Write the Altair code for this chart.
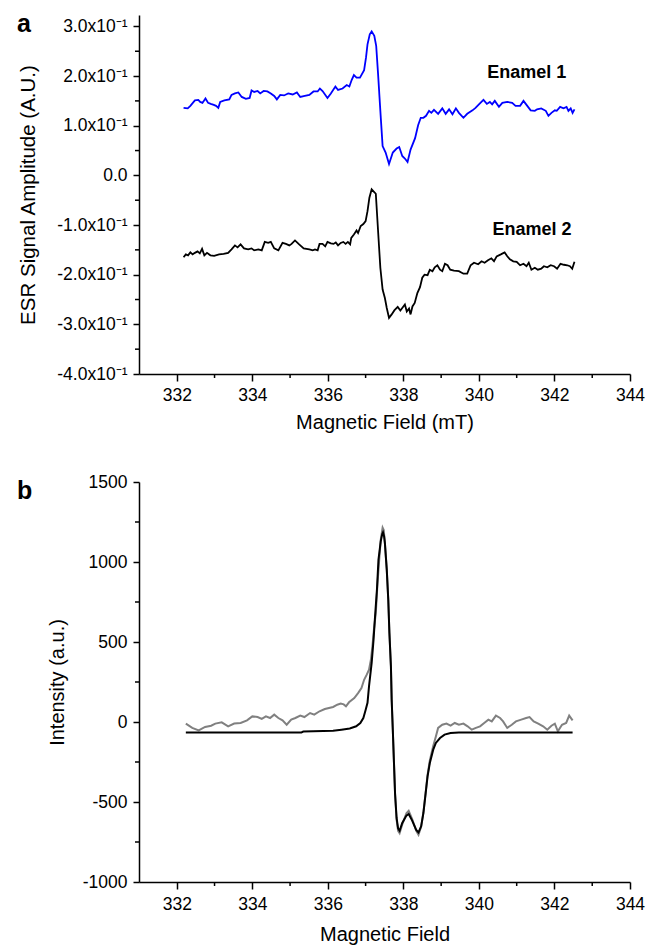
import altair as alt
import pandas as pd

# ---------------- Panel a data ----------------
field_e1 = [332.18, 332.29, 332.36, 332.48, 332.57, 332.62, 332.68, 332.76, 332.83, 332.90, 332.98, 333.04,
            333.10, 333.15, 333.26, 333.39, 333.45, 333.54, 333.63, 333.72, 333.83, 333.93, 333.98, 334.05,
            334.14, 334.21, 334.30, 334.40, 334.49, 334.58, 334.65, 334.74, 334.84, 334.95, 335.07, 335.18,
            335.27, 335.39, 335.51, 335.62, 335.73, 335.79, 335.86, 335.99, 336.08, 336.20, 336.27, 336.39,
            336.50, 336.57, 336.63, 336.69, 336.76, 336.85, 336.96, 337.01, 337.05, 337.11, 337.16, 337.23,
            337.28, 337.33, 337.39, 337.45, 337.53, 337.62, 337.72, 337.82, 337.89, 337.97, 338.04, 338.11,
            338.19, 338.31, 338.39, 338.46, 338.53, 338.60, 338.68, 338.74, 338.81, 338.92, 339.03, 339.12,
            339.21, 339.30, 339.39, 339.47, 339.59, 339.69, 339.83, 339.91, 340.00, 340.12, 340.21, 340.29,
            340.35, 340.42, 340.53, 340.62, 340.75, 340.88, 340.97, 341.09, 341.18, 341.28, 341.37, 341.48,
            341.54, 341.65, 341.77, 341.84, 341.92, 342.01, 342.06, 342.15, 342.24, 342.32, 342.37, 342.43,
            342.48, 342.53]
amp_e1 = [0.136, 0.135, 0.140, 0.151, 0.152, 0.148, 0.146, 0.155, 0.146, 0.144, 0.142, 0.140,
          0.136, 0.148, 0.151, 0.153, 0.162, 0.165, 0.167, 0.158, 0.154, 0.156, 0.171, 0.168,
          0.170, 0.165, 0.170, 0.169, 0.165, 0.160, 0.153, 0.162, 0.161, 0.165, 0.163, 0.167,
          0.158, 0.160, 0.162, 0.169, 0.169, 0.175, 0.170, 0.156, 0.165, 0.179, 0.172, 0.175,
          0.182, 0.179, 0.192, 0.202, 0.197, 0.197, 0.212, 0.237, 0.264, 0.284, 0.290, 0.281,
          0.261, 0.204, 0.130, 0.059, 0.046, 0.023, 0.046, 0.054, 0.057, 0.039, 0.034, 0.027,
          0.052, 0.075, 0.101, 0.116, 0.116, 0.120, 0.130, 0.126, 0.132, 0.124, 0.135, 0.124,
          0.133, 0.123, 0.135, 0.126, 0.116, 0.124, 0.131, 0.136, 0.143, 0.152, 0.144, 0.148,
          0.143, 0.150, 0.138, 0.146, 0.148, 0.146, 0.140, 0.140, 0.150, 0.140, 0.131, 0.130,
          0.133, 0.135, 0.130, 0.120, 0.126, 0.131, 0.130, 0.138, 0.135, 0.138, 0.130, 0.135,
          0.126, 0.133]

field_e2 = [332.18, 332.24, 332.30, 332.36, 332.42, 332.48, 332.55, 332.61, 332.67, 332.73, 332.80, 332.89,
            332.99, 333.12, 333.24, 333.36, 333.45, 333.54, 333.61, 333.69, 333.78, 333.89, 333.98, 334.05,
            334.16, 334.25, 334.33, 334.42, 334.49, 334.58, 334.69, 334.80, 334.89, 334.98, 335.04, 335.13,
            335.24, 335.36, 335.51, 335.60, 335.66, 335.73, 335.78, 335.86, 335.93, 335.99, 336.08, 336.15,
            336.21, 336.27, 336.34, 336.41, 336.47, 336.53, 336.59, 336.62, 336.69, 336.76, 336.80, 336.87,
            336.94, 337.00, 337.05, 337.10, 337.16, 337.21, 337.27, 337.33, 337.39, 337.45, 337.51, 337.56,
            337.62, 337.69, 337.76, 337.85, 337.92, 337.97, 338.04, 338.09, 338.15, 338.19, 338.24, 338.30,
            338.37, 338.44, 338.50, 338.56, 338.64, 338.70, 338.77, 338.83, 338.90, 338.97, 339.03, 339.10,
            339.17, 339.24, 339.34, 339.47, 339.59, 339.69, 339.78, 339.87, 339.98, 340.07, 340.15, 340.24,
            340.33, 340.40, 340.47, 340.58, 340.68, 340.75, 340.82, 340.91, 341.00, 341.09, 341.18, 341.26,
            341.32, 341.39, 341.48, 341.56, 341.65, 341.72, 341.81, 341.90, 341.99, 342.07, 342.16, 342.25,
            342.34, 342.41, 342.47, 342.53]
amp_e2 = [-0.165, -0.159, -0.161, -0.155, -0.159, -0.156, -0.153, -0.157, -0.148, -0.161, -0.156, -0.161,
          -0.162, -0.159, -0.158, -0.156, -0.149, -0.141, -0.145, -0.139, -0.147, -0.149, -0.147, -0.151,
          -0.149, -0.151, -0.134, -0.136, -0.134, -0.147, -0.151, -0.136, -0.138, -0.141, -0.138, -0.131,
          -0.139, -0.147, -0.149, -0.151, -0.149, -0.151, -0.138, -0.138, -0.143, -0.134, -0.137, -0.138,
          -0.135, -0.141, -0.136, -0.134, -0.138, -0.134, -0.139, -0.126, -0.119, -0.111, -0.116, -0.102,
          -0.098, -0.092, -0.072, -0.045, -0.028, -0.032, -0.037, -0.112, -0.186, -0.230, -0.247, -0.267,
          -0.287, -0.280, -0.272, -0.265, -0.272, -0.267, -0.260, -0.274, -0.268, -0.280, -0.264, -0.257,
          -0.237, -0.225, -0.206, -0.200, -0.201, -0.190, -0.193, -0.185, -0.181, -0.190, -0.193, -0.178,
          -0.181, -0.190, -0.192, -0.193, -0.198, -0.198, -0.181, -0.176, -0.179, -0.173, -0.176, -0.171,
          -0.167, -0.173, -0.163, -0.159, -0.155, -0.163, -0.169, -0.173, -0.174, -0.181, -0.178, -0.183,
          -0.176, -0.190, -0.186, -0.190, -0.188, -0.183, -0.185, -0.181, -0.183, -0.188, -0.178, -0.180,
          -0.181, -0.183, -0.188, -0.174]

labels_a = ["Enamel 1", "Enamel 2"]
labels_a_x = [340.22, 340.36]
labels_a_y = [0.1956, -0.121]

# ---------------- Panel b data ----------------
field_exp = [332.24, 332.41, 332.58, 332.75, 332.91, 333.02, 333.19, 333.36, 333.52, 333.69, 333.86, 334.00,
             334.14, 334.25, 334.36, 334.47, 334.58, 334.69, 334.80, 334.91, 335.03, 335.14, 335.27, 335.38,
             335.53, 335.64, 335.78, 335.92, 336.03, 336.14, 336.25, 336.34, 336.42, 336.48, 336.56, 336.70,
             336.80, 336.89, 336.96, 337.03, 337.09, 337.14, 337.18, 337.22, 337.27, 337.31, 337.36, 337.40,
             337.45, 337.48, 337.51, 337.56, 337.60, 337.63, 337.67, 337.69, 337.72, 337.75, 337.78, 337.82,
             337.86, 337.90, 337.97, 338.08, 338.14, 338.23, 338.34, 338.40, 338.47, 338.53, 338.59, 338.64,
             338.70, 338.79, 338.86, 338.92, 339.03, 339.14, 339.25, 339.36, 339.47, 339.59, 339.70, 339.81,
             339.92, 340.03, 340.14, 340.25, 340.34, 340.45, 340.56, 340.64, 340.75, 340.87, 340.98, 341.12,
             341.25, 341.34, 341.45, 341.57, 341.70, 341.81, 341.92, 342.01, 342.09, 342.20, 342.31, 342.39,
             342.48]
int_exp = [-10, -37, -52, -31, -23, -10, -2, -27, -10, -6, 10, 35,
           31, 19, 35, 25, 46, 25, 10, -17, 15, 25, 40, 31,
           56, 46, 67, 81, 88, 94, 108, 115, 110, 98, 123, 150,
           181, 212, 264, 296, 327, 389, 473, 577, 681, 848, 1014, 1139,
           1215, 1200, 1119, 952, 764, 556, 348, 139, -50, -250, -450, -610,
           -680, -695, -640, -570, -555, -605, -680, -705, -655, -565, -440, -330,
           -240, -150, -90, -37, -17, -10, -23, -6, -17, -10, -27, -48,
           -37, -27, -6, 15, 4, 40, 25, 4, -37, -17, 4, 15,
           25, 31, 4, -10, -27, -48, -23, -10, -58, -17, -6, 40,
           10]

field_sim = [332.24, 335.30, 335.35, 336.14, 336.36, 336.58, 336.75, 336.86, 336.94, 337.00, 337.05, 337.09,
             337.16, 337.21, 337.25, 337.30, 337.34, 337.40, 337.44, 337.46, 337.49, 337.51, 337.56, 337.60,
             337.63, 337.67, 337.69, 337.72, 337.75, 337.78, 337.82, 337.86, 337.90, 337.97, 338.08, 338.14,
             338.23, 338.34, 338.40, 338.47, 338.53, 338.59, 338.64, 338.70, 338.79, 338.86, 338.97, 339.09,
             339.25, 339.47, 342.48]
int_sim = [-65, -65, -60, -55, -48, -40, -27, -6, 25, 75, 120, 223,
           369, 514, 660, 827, 1014, 1129, 1175, 1185, 1160, 1119, 952, 764,
           556, 348, 139, -50, -250, -450, -600, -665, -680, -631, -585, -575,
           -615, -675, -690, -652, -569, -444, -340, -256, -173, -131, -100, -79,
           -69, -65, -65]

# ---------------- ticks ----------------
x_major = [332, 334, 336, 338, 340, 342, 344]
x_minor = [333, 335, 337, 339, 341, 343]
ya_major = [-0.4, -0.3, -0.2, -0.1, 0.0, 0.1, 0.2, 0.3]
ya_minor = [-0.35, -0.25, -0.15, -0.05, 0.05, 0.15, 0.25]
yb_major = [-1000, -500, 0, 500, 1000, 1500]
yb_minor = [-750, -250, 250, 750, 1250]

FONT = "Liberation Sans"
W = 491
HA = 359
HB = 400
TICK_FS = 17.5
TITLE_FS = 20

xscale = alt.Scale(domain=[331, 344], nice=False, zero=False)
ya_scale = alt.Scale(domain=[-0.4, 0.323], nice=False, zero=False)
yb_scale = alt.Scale(domain=[-1000, 1500], nice=False, zero=False)


def common_axis(**kw):
    base = dict(grid=False, domainColor="black", domainWidth=1.5, tickColor="black", tickWidth=1.5,
                labelColor="black", titleColor="black", labelFont=FONT, titleFont=FONT,
                labelFontSize=TICK_FS, titleFontSize=TITLE_FS, titleFontWeight="normal",
                labelFlush=False, labelOverlap=False)
    base.update(kw)
    return alt.Axis(**base)


def x_axis(title, lp, tp):
    return common_axis(values=x_major, format="d", tickSize=7, labelPadding=lp, titlePadding=tp, title=title)


ya_label = ("datum.value == 0 ? '0.0' : (datum.value < 0 ? '-' : '') + "
            "format(abs(datum.value) * 10, '.1f') + 'x10⁻¹'")
yb_label = "(datum.value < 0 ? '-' : '') + format(abs(datum.value), 'd')"

AX_XA = x_axis("Magnetic Field (mT)", 5, 9)
AX_YA = common_axis(values=ya_major, labelExpr=ya_label, tickSize=6, labelPadding=6,
                    titlePadding=18, titleFontSize=20.5, title="ESR Signal Amplitude (A.U.)")
AX_XB = x_axis("Magnetic Field", 6, 12)
AX_YB = common_axis(values=yb_major, labelExpr=yb_label, tickSize=6, labelPadding=6,
                    titlePadding=15, title="Intensity (a.u.)")


def minor_y(vals, scale, axis):
    df = pd.DataFrame({"v": vals})
    return alt.Chart(df).mark_rule(color="black", strokeWidth=1.5).encode(
        y=alt.Y("v:Q", scale=scale, axis=axis), x=alt.value(0), x2=alt.value(-4))


def minor_x(vals, height, axis):
    df = pd.DataFrame({"v": vals})
    return alt.Chart(df).mark_rule(color="black", strokeWidth=1.5).encode(
        x=alt.X("v:Q", scale=xscale, axis=axis), y=alt.value(height), y2=alt.value(height + 4))


def panel_letter(letter, yb):
    df = pd.DataFrame({"t": [letter]})
    return alt.Chart(df).mark_text(font=FONT, fontSize=25, fontWeight="bold", align="left",
                                   baseline="alphabetic", color="black").encode(
        text="t:N", x=alt.value(-122), y=alt.value(yb))


# ---------------- Panel a ----------------
df_a = pd.concat([
    pd.DataFrame({"field": field_e1, "amp": amp_e1, "sample": "Enamel 1"}),
    pd.DataFrame({"field": field_e2, "amp": amp_e2, "sample": "Enamel 2"}),
])

lines_a = alt.Chart(df_a).mark_line(strokeWidth=1.8).encode(
    x=alt.X("field:Q", scale=xscale, axis=AX_XA),
    y=alt.Y("amp:Q", scale=ya_scale, axis=AX_YA),
    color=alt.Color("sample:N", scale=alt.Scale(domain=labels_a, range=["#0000ff", "#000000"]), legend=None),
    detail="sample:N",
)

df_lab = pd.DataFrame({"t": labels_a, "x": labels_a_x, "y": labels_a_y})
text_a = alt.Chart(df_lab).mark_text(font=FONT, fontSize=18, fontWeight="bold", align="left",
                                     baseline="alphabetic", color="black").encode(
    x=alt.X("x:Q", scale=xscale, axis=AX_XA), y=alt.Y("y:Q", scale=ya_scale, axis=AX_YA), text="t:N")

panel_a = alt.layer(lines_a, text_a, minor_y(ya_minor, ya_scale, AX_YA), minor_x(x_minor, HA, AX_XA),
                    panel_letter("a", 17)).properties(width=W, height=HA)

# ---------------- Panel b ----------------
df_b = pd.concat([
    pd.DataFrame({"field": field_exp, "intensity": int_exp, "curve": "experimental"}),
    pd.DataFrame({"field": field_sim, "intensity": int_sim, "curve": "simulated"}),
])

lines_b = alt.Chart(df_b).mark_line(strokeWidth=2).encode(
    x=alt.X("field:Q", scale=xscale, axis=AX_XB),
    y=alt.Y("intensity:Q", scale=yb_scale, axis=AX_YB),
    color=alt.Color("curve:N", scale=alt.Scale(domain=["experimental", "simulated"],
                                               range=["#808080", "#000000"]), legend=None),
    detail="curve:N",
    order=alt.Order("field:Q"),
)

panel_b = alt.layer(lines_b, minor_y(yb_minor, yb_scale, AX_YB), minor_x(x_minor, HB, AX_XB),
                    panel_letter("b", 17)).properties(width=W, height=HB)

chart = alt.vconcat(panel_a, panel_b, spacing=108, bounds="flush").resolve_scale(
    color="independent"
).properties(
    padding={"left": 9, "top": 4, "right": 5, "bottom": 5}
).configure(background="white").configure_view(stroke=None)

chart.save("out.html", embed_options={"renderer": "svg", "actions": False})
